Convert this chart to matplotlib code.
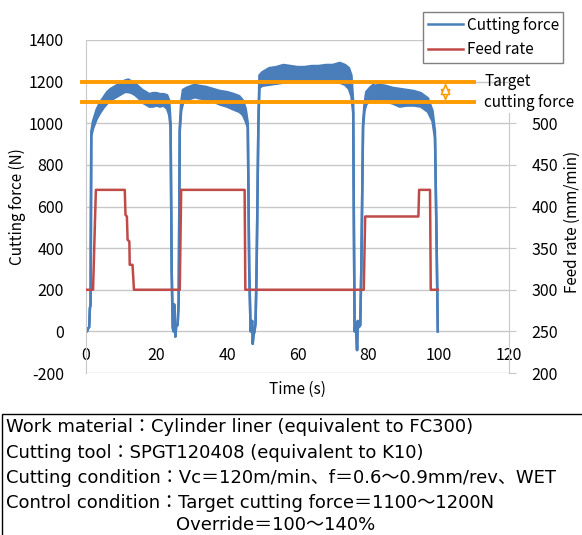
import matplotlib
matplotlib.use("Agg")
import matplotlib.pyplot as plt

plt.rcParams["font.family"] = ["Noto Sans CJK JP", "DejaVu Sans"]
plt.rcParams["axes.unicode_minus"] = False

# cutting force (N): upper / lower edge of the noisy trace
force_t = [0.0, 0.3, 0.6, 0.9, 1.1, 1.3, 1.5, 2.0, 3.0, 4.0, 5.0, 6.0, 7.0, 8.0, 9.0,
           10.0, 11.0, 12.0, 13.0, 14.0, 15.0, 16.0, 17.0, 18.0, 19.0, 20.0, 21.0, 22.0,
           23.0, 23.6, 24.0, 24.3, 24.6, 24.8, 25.0, 25.2, 25.35, 25.6, 26.0, 26.3, 26.6,
           27.0, 27.5, 28.5, 30.0, 31.0, 32.0, 34.0, 36.0, 38.0, 40.0, 42.0, 43.5, 44.5,
           45.3, 45.9, 46.3, 46.7, 47.0, 47.15, 47.3, 47.5, 47.8, 48.1, 48.4, 48.9, 49.2,
           50.0, 52.0, 54.0, 56.0, 58.0, 60.0, 62.0, 64.0, 66.0, 68.0, 70.0, 72.0, 73.5,
           74.6, 75.3, 75.8, 76.0, 76.2, 76.5, 76.7, 76.9, 77.1, 77.4, 77.8, 78.1, 78.6,
           79.0, 79.5, 80.5, 81.5, 82.1, 83.0, 85.0, 87.0, 89.0, 91.0, 93.0, 95.0, 97.0,
           98.3, 99.0, 99.4, 99.8]
force_hi = [10, 0, 15, 20, 110, 130, 960, 1010, 1065, 1100, 1125, 1150, 1165, 1175, 1185,
            1195, 1205, 1210, 1200, 1190, 1175, 1160, 1150, 1140, 1145, 1145, 1140, 1140,
            1135, 1110, 1000, 300, 20, 0, 130, 60, -25, 30, 30, 150, 980,
            1100, 1160, 1170, 1180, 1185, 1180, 1175, 1165, 1155, 1150, 1140, 1130, 1110,
            1070, 1000, 300, 0, 40, 50, -60, -20, 0, 40, 300, 1000, 1230,
            1245, 1265, 1270, 1280, 1275, 1270, 1270, 1275, 1275, 1280, 1280, 1290, 1280,
            1265, 1230, 1100, 500, 0, 40, -20, -90, 50, 20, 30, 300, 1000,
            1090, 1150, 1170, 1185, 1180, 1185, 1180, 1170, 1165, 1160, 1155, 1145, 1120,
            1060, 960, 500, 0]
force_lo = [10, 0, 15, 20, 110, 130, 940, 975, 1020, 1050, 1075, 1095, 1110, 1120, 1130,
            1140, 1150, 1150, 1145, 1135, 1120, 1100, 1090, 1080, 1080, 1085, 1080, 1085,
            1070, 1040, 980, 300, 20, 0, 130, 60, -25, 30, 30, 150, 960,
            1060, 1095, 1110, 1120, 1125, 1120, 1115, 1105, 1090, 1080, 1065, 1055, 1040,
            1010, 980, 300, 0, 40, 50, -60, -20, 0, 40, 300, 990, 1170,
            1180, 1185, 1190, 1195, 1200, 1205, 1205, 1205, 1205, 1205, 1200, 1195, 1185,
            1165, 1130, 1050, 500, 0, 40, -20, -90, 50, 20, 30, 300, 980,
            1060, 1090, 1110, 1120, 1105, 1115, 1105, 1095, 1080, 1085, 1085, 1080, 1055,
            1010, 930, 500, 0]

# feed rate (mm/min)
feed_t = [0, 2.0, 2.8, 11.0, 11.2, 11.6, 11.8, 12.3, 12.4, 13.2, 13.6, 26.6, 27.0,
          45.0, 45.2, 78.8, 79.2, 94.3, 94.5, 97.6, 97.8, 99.8]
feed = [300, 300, 420, 420, 390, 388, 360, 358, 330, 330, 300, 300, 420,
        420, 300, 300, 388, 388, 420, 420, 300, 300]

target_force = [1100, 1200]

left_ticks = [-200, 0, 200, 400, 600, 800, 1000, 1200, 1400]
right_ticks = [200, 250, 300, 350, 400, 450, 500]
x_ticks = [0, 20, 40, 60, 80, 100, 120]

blue = "#4A7EBB"
red = "#BE4B48"
orange = "#FF9B00"
grid_c = "#C8C8C8"

fig = plt.figure(figsize=(5.82, 5.35), dpi=100)
ax = fig.add_axes([86 / 582, 1 - 373 / 535, 423 / 582, 333 / 535])
ax2 = ax.twinx()

# x axis crosses at 0 (this resets ticks, so do it first)
for s in ["top", "right"]:
    ax.spines[s].set_visible(False)
ax.spines["bottom"].set_position(("data", 0))
ax.spines["bottom"].set_visible(False)
ax.spines["left"].set_color(grid_c)
for s in ["top", "left", "bottom"]:
    ax2.spines[s].set_visible(False)
ax2.spines["right"].set_color(grid_c)

ax.fill_between(force_t, force_lo, force_hi, color=blue, lw=0)
ax.plot(force_t, force_hi, color=blue, lw=1.8)
l1, = ax.plot(force_t, force_lo, color=blue, lw=1.8, label="Cutting force")
l2, = ax2.plot(feed_t, feed, color=red, lw=1.8, label="Feed rate")

ax.set_xlim(0, 120)
ax.set_ylim(-200, 1400)
ax2.set_ylim(200, 600)
ax2.spines["right"].set_bounds(200, 512)

ax.set_yticks(left_ticks)
ax.set_yticklabels([str(v) for v in left_ticks])
ax.set_xticks(x_ticks)
ax.set_xticklabels([str(v) for v in x_ticks])
ax2.set_yticks(right_ticks)
ax2.set_yticklabels([str(v) for v in right_ticks])

ax.grid(axis="y", color=grid_c, lw=1)
ax.set_axisbelow(True)
ax.tick_params(axis="x", length=0, pad=11, labelsize=11.5)
ax.tick_params(axis="y", length=0, pad=16, labelsize=11.5)
ax2.tick_params(axis="y", direction="out", length=5, color=grid_c, pad=11,
                labelsize=11.5)

ax.set_ylabel("Cutting force (N)", fontsize=11)
ax.yaxis.set_label_coords(-0.142, 0.5)
ax.set_xlabel("Time (s)", fontsize=11)
ax.xaxis.set_label_coords(0.5, -0.025)
fig.text(572 / 582, 1 - 222 / 535, "Feed rate (mm/min)", rotation=90,
         ha="center", va="center", fontsize=11)

# target band
for v in target_force:
    ax2.plot([-1, 110], [v, v], color=orange, lw=2.8, transform=ax.transData,
             clip_on=False)
ax2.annotate("", xy=(102, target_force[1] - 6), xytext=(102, target_force[0] + 6),
             xycoords=ax.transData, textcoords=ax.transData,
             arrowprops=dict(arrowstyle="<|-|>,head_width=0.3,head_length=0.7",
                             fc="white", ec=orange, lw=1.1, shrinkA=0, shrinkB=0))
ax.text(113, target_force[1], "Target", fontsize=11, va="center", ha="left")
ax.text(113, target_force[0], "cutting force", fontsize=11, va="center", ha="left")

leg = ax2.legend(handles=[l1, l2], loc="upper left", borderaxespad=0,
                 bbox_to_anchor=(423 / 582, 1 - 12 / 535), bbox_transform=fig.transFigure,
                 fontsize=11, frameon=True, fancybox=False, framealpha=1,
                 edgecolor="#7F7F7F", handlelength=2.3, handletextpad=0.25,
                 borderpad=0.3, labelspacing=0.5)
leg.get_frame().set_linewidth(1.0)

# condition box
box = plt.Rectangle((2 / 582, -0.1), 1.0, 1 - 414 / 535 + 0.1, transform=fig.transFigure,
                    fill=False, ec="black", lw=1.0)
fig.patches.append(box)
lines = ["Work material：Cylinder liner (equivalent to FC300)",
         "Cutting tool：SPGT120408 (equivalent to K10)",
         "Cutting condition：Vc＝120m/min、f＝0.6～0.9mm/rev、WET",
         "Control condition：Target cutting force＝1100～1200N"]
box_font = ["DejaVu Sans", "Noto Sans CJK JP"]
for i, s in enumerate(lines):
    fig.text(6 / 582, 1 - (427 + 25.5 * i) / 535, s, fontsize=13, va="center",
             ha="left", family=box_font)
fig.text(176 / 582, 1 - 525 / 535, "Override＝100～140%", fontsize=13, va="center",
         ha="left", family=box_font)

fig.savefig("out.png", dpi=100)
